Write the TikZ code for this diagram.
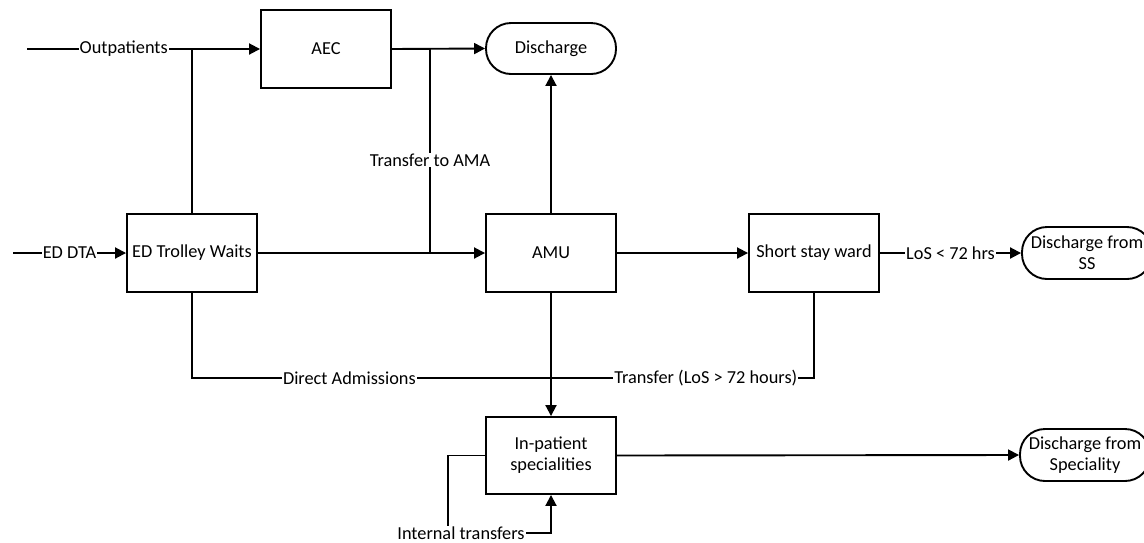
\documentclass[tikz,border=0pt]{standalone}
\usepackage{fontspec}
\setmainfont{Carlito}
\usetikzlibrary{arrows.meta}
\begin{document}
\begin{tikzpicture}[x=1pt,y=-1pt, line width=1.9pt,
  font=\fontsize{18.3}{21}\selectfont,
  box/.style={draw, minimum width=130pt, minimum height=78pt, inner sep=0pt, align=center},
  term/.style={draw, rounded corners=25pt, minimum width=130pt, minimum height=51pt, inner sep=0pt, align=center},
  lbl/.style={fill=white, inner sep=1pt},
  arr/.style={-{Triangle[length=11pt,width=11pt]}}]
\useasboundingbox (0,0) rectangle (1144,542);

\node[box] (aec) at (326,49) {AEC};
\node[box] (ed) at (192,253) {ED Trolley Waits};
\node[box] (amu) at (551,253) {AMU};
\node[box] (ss) at (814,253) {Short stay ward};
\node[box, minimum height=77pt] (ip) at (551,455.5) {In-patient\\specialities};
\node[term] (dis) at (551,48.5) {Discharge};
\node[term, minimum height=52pt] (dss) at (1087,253) {Discharge from\\SS};
\node[term, minimum height=52pt] (dsp) at (1085,455) {Discharge from\\Speciality};

\coordinate (op) at (27,49);
\coordinate (dta) at (13,253);
\coordinate (j1) at (430,49);
\coordinate (j2) at (430,253);
\coordinate (dl) at (192,378);
\coordinate (dr) at (814,378);
\coordinate (it1) at (448,455.5);
\coordinate (it2) at (448,533);
\coordinate (it3) at (551,533);

\draw[arr] (op) -- node[lbl, pos=0.415]{Outpatients} (aec.west);
\draw (ed.north) -- (ed.north |- aec.west);
\draw[arr] (dta) -- node[lbl]{ED DTA} (ed.west);
\draw[arr] (aec.east) -- (dis.west);
\draw[arr] (ed.east) -- (amu.west);
\draw (j1) -- node[lbl, pos=0.544]{Transfer to AMA} (j2);
\draw[arr] (amu.north) -- (dis.south);
\draw[arr] (amu.east) -- (ss.west);
\draw[arr] (ss.east) -- node[lbl]{LoS < 72 hrs} (dss.west);
\draw (ed.south) -- (dl) -- node[lbl, pos=0.253]{Direct Admissions} node[lbl, pos=0.826]{Transfer (LoS > 72 hours)} (dr) -- (ss.south);
\draw[arr] (amu.south) -- (ip.north);
\draw[arr] (ip.east) -- (dsp.west);
\draw[arr] (ip.west) -- (it1) -- (it2) -- node[lbl, pos=0.126]{Internal transfers} (it3) -- (ip.south);
\end{tikzpicture}
\end{document}
